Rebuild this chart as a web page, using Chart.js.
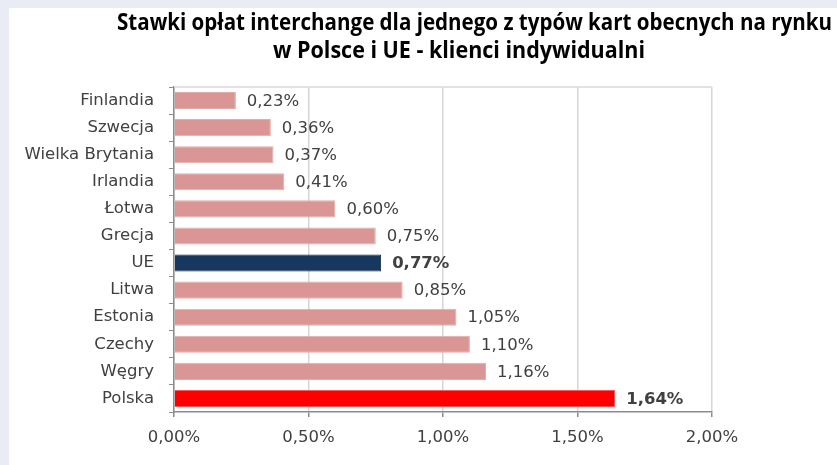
<!DOCTYPE html>
<html>
<head>
<meta charset="utf-8">
<script src="https://cdn.jsdelivr.net/npm/chart.js@4"></script>
<style>
  body { margin: 0; background: #e9ebf5; width: 837px; height: 465px; overflow: hidden; }
  #box { position: absolute; left: 9px; top: 8px; width: 828px; height: 457px; background: #fff; }
</style>
</head>
<body>
<div id="box"><canvas id="wykres" width="828" height="457"></canvas></div>
<script>
// Dane
const kraje = ['Finlandia', 'Szwecja', 'Wielka Brytania', 'Irlandia', 'Łotwa', 'Grecja', 'UE', 'Litwa', 'Estonia', 'Czechy', 'Węgry', 'Polska'];
const stawki = [0.23, 0.36, 0.37, 0.41, 0.60, 0.75, 0.77, 0.85, 1.05, 1.10, 1.16, 1.64];
const osX = [0, 0.5, 1.0, 1.5, 2.0];
const tytul = ['Stawki opłat interchange dla jednego z typów kart obecnych na rynku', 'w Polsce i UE - klienci indywidualni'];

// Kolory
const wyroznione = ['UE', 'Polska'];
const kolory = kraje.map(k => k === 'UE' ? '#17375e' : (k === 'Polska' ? '#ff0000' : '#d99694'));
const obramowania = kraje.map(k => k === 'UE' ? '#0e2744' : (k === 'Polska' ? '#ff5a5a' : '#e3acaa'));

const fmt = v => v.toFixed(2).replace('.', ',') + '%';
const czcionka = '"DejaVu Sans", sans-serif';

// Tytuł (ściśnięty w poziomie jak w oryginale)
const tytulPlugin = {
    id: 'tytul',
    afterDraw(chart) {
        const ctx = chart.ctx;
        const linie = [
            { t: tytul[0], x: 465.5, y: 22, w: 715 },
            { t: tytul[1], x: 450, y: 50, w: 372 },
        ];
        ctx.save();
        ctx.fillStyle = '#000';
        ctx.font = 'bold 24px "Open Sans", sans-serif';
        ctx.textBaseline = 'alphabetic';
        ctx.textAlign = 'center';
        linie.forEach(l => {
            const sx = l.w / ctx.measureText(l.t).width;
            ctx.save();
            ctx.translate(l.x, l.y);
            ctx.scale(sx, 1);
            ctx.fillText(l.t, 0, 0);
            ctx.restore();
        });
        ctx.restore();
    }
};

// Ramka obszaru wykresu + etykiety wartości
const ramkaPlugin = {
    id: 'ramka',
    beforeDatasetsDraw(chart) {
        const { ctx, chartArea: a } = chart;
        ctx.save();
        ctx.strokeStyle = '#d9d9d9';
        ctx.lineWidth = 1.5;
        ctx.beginPath();
        ctx.moveTo(a.left, a.top);
        ctx.lineTo(a.right, a.top);
        ctx.stroke();
        ctx.restore();
    },
    afterDatasetsDraw(chart) {
        const ctx = chart.ctx;
        const meta = chart.getDatasetMeta(0);
        ctx.save();
        ctx.fillStyle = '#404040';
        ctx.textBaseline = 'middle';
        ctx.textAlign = 'left';
        meta.data.forEach((bar, i) => {
            const gruby = wyroznione.includes(kraje[i]);
            ctx.font = (gruby ? 'bold ' : '') + '16.5px ' + czcionka;
            ctx.fillText(fmt(stawki[i]), bar.x + 11, bar.y + 1);
        });
        ctx.restore();
    }
};

new Chart(document.getElementById('wykres').getContext('2d'), {
    type: 'bar',
    data: {
        labels: kraje,
        datasets: [{
            data: stawki,
            backgroundColor: kolory,
            borderColor: obramowania,
            borderWidth: 1,
            barPercentage: 0.63,
            categoryPercentage: 1,
        }]
    },
    options: {
        indexAxis: 'y',
        responsive: false,
        animation: false,
        layout: { padding: { top: 79, right: 125, left: 0, bottom: 0 } },
        plugins: { legend: { display: false }, tooltip: { enabled: false }, title: { display: false } },
        scales: {
            x: {
                min: 0,
                max: 2,
                afterBuildTicks(axis) { axis.ticks = osX.map(v => ({ value: v })); },
                afterFit(axis) { axis.height = 53; },
                grid: { color: '#d6d6d6', lineWidth: 1.5, tickLength: 5, tickColor: '#8c8c8c' },
                border: { color: '#8c8c8c', width: 1.5 },
                ticks: {
                    padding: 11,
                    color: '#404040',
                    font: { family: czcionka, size: 16.5 },
                    callback: v => fmt(v),
                },
            },
            y: {
                afterFit(axis) { axis.width = 165; },
                grid: { drawOnChartArea: false, tickLength: 5, tickColor: '#8c8c8c', offset: true },
                border: { color: '#8c8c8c', width: 1.5 },
                ticks: {
                    padding: 15,
                    color: '#404040',
                    font: { family: czcionka, size: 16.5 },
                },
            },
        },
    },
    plugins: [tytulPlugin, ramkaPlugin],
});
</script>
</body>
</html>
